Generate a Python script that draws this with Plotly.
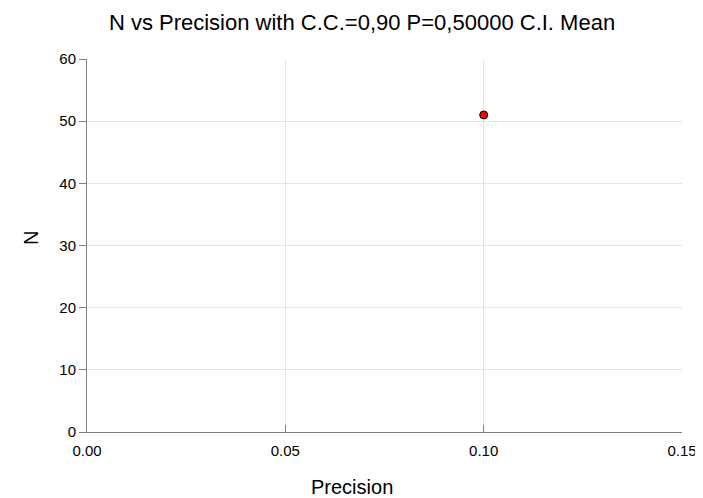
import plotly.graph_objects as go

precision = [0.10]
n_values = [51]
x_ticks = [0.00, 0.05, 0.10, 0.15]
x_tick_labels = ["0.00", "0.05", "0.10", "0.15"]
y_ticks = [0, 10, 20, 30, 40, 50, 60]

# The page body adds an 8px margin, so the figure is 8px smaller and offsets are in page pixels minus 8.
OFF = 8
W, H = 703 - OFF, 498 - OFF
L, R, T, B = 87 - OFF, 21, 59 - OFF, 66
PW, PH = W - L - R, H - T - B

fig = go.Figure()
fig.add_trace(go.Scatter(
    x=precision, y=n_values, mode="markers",
    marker=dict(color="#ff0000", size=8, line=dict(color="#000000", width=1)),
    showlegend=False,
))

font_family = "Liberation Sans, Arial, sans-serif"
fig.update_layout(
    width=W, height=H,
    margin=dict(l=L, r=R, t=T, b=B, autoexpand=False),
    paper_bgcolor="white", plot_bgcolor="white",
    font=dict(family=font_family, color="#000000", size=15),
    title=dict(text="N vs Precision with C.C.=0,90 P=0,50000 C.I. Mean",
               x=(362 - OFF) / W, xanchor="center", y=1 - (22 - OFF) / H, yanchor="middle",
               font=dict(size=22, family=font_family)),
    annotations=[
        dict(text="Precision", xref="paper", yref="paper",
             x=(352 - 87) / PW, y=-(487 - 432) / PH, xanchor="center", yanchor="middle",
             showarrow=False, font=dict(size=20, family=font_family)),
        dict(text="N", xref="paper", yref="paper", textangle=-90,
             x=-(87 - 31) / PW, y=(432 - 238) / PH, xanchor="center", yanchor="middle",
             showarrow=False, font=dict(size=20, family=font_family)),
    ],
)
fig.update_xaxes(
    range=[0, 0.15], tickvals=x_ticks, ticktext=x_tick_labels,
    showline=True, linecolor="#808080", linewidth=1,
    ticks="inside", ticklen=7, tickcolor="#808080",
    showgrid=True, gridcolor="#e4e4e4", gridwidth=1, zeroline=False,
    automargin=False, tickfont=dict(size=15), ticklabelstandoff=5,
)
fig.update_yaxes(
    range=[0, 60], tickvals=y_ticks,
    showline=True, linecolor="#808080", linewidth=1,
    ticks="outside", ticklen=7, tickcolor="#808080",
    showgrid=True, gridcolor="#e4e4e4", gridwidth=1, zeroline=False,
    automargin=False, tickfont=dict(size=15),
)

fig.write_html("out.html")
